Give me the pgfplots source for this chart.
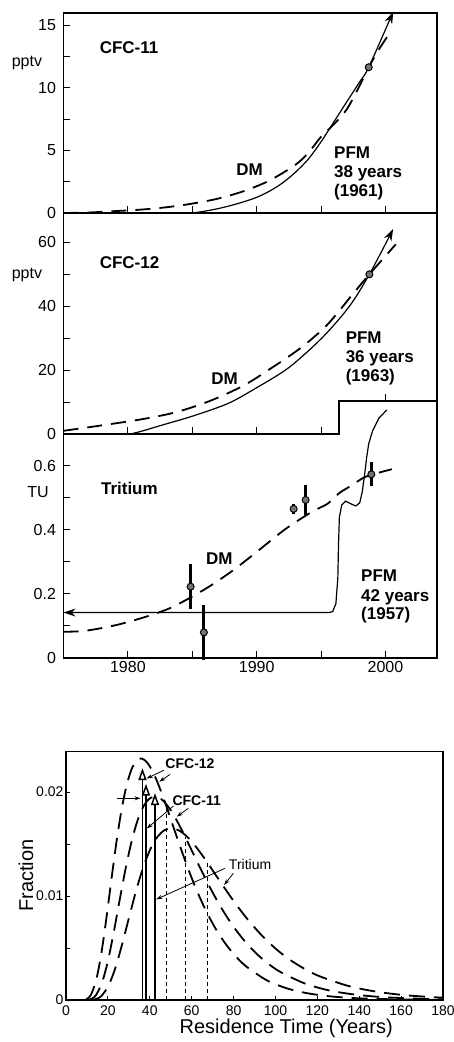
\documentclass[border=0pt]{standalone}
\usepackage{pgfplots}
\pgfplotsset{compat=1.18}
\usepackage{fontspec}
\setmainfont{Liberation Sans}
\usetikzlibrary{arrows.meta}
\newcommand{\tk}{\fontsize{16}{19}\selectfont}
\newcommand{\lb}{\fontsize{17}{20}\selectfont\bfseries}
\newcommand{\bk}{\fontsize{14}{17}\selectfont}
\begin{document}
\begin{tikzpicture}
\useasboundingbox (0pt,0pt) rectangle (454pt,1042pt);
\pgfplotsset{
  panel/.style={
    scale only axis, anchor=south west, clip=false,
    xmin=1975, xmax=2004, width=373.5pt,
    tick align=inside, tick pos=left, major tick length=7pt,
    tick style={black, line width=1pt},
    axis line style={line width=1.3pt},
    tick label style={font=\tk},
    yticklabel style={xshift=-4pt},
  },
  dm/.style={black, line width=1.8pt, dash pattern=on 15pt off 9pt, smooth},
  pfm/.style={black, line width=1.2pt},
  pt/.style={only marks, mark=*, mark size=3.5pt, mark options={fill=black!55, draw=black, line width=1pt, solid}},
}
% ---------------- Panel 1: CFC-11
\begin{axis}[panel, at={(63.5pt,829pt)}, height=200pt, ymin=0, ymax=16,
  xtick={1980,1985,1990,1995,2000}, xticklabels={},
  ytick={0,2.5,5,7.5,10,12.5,15}, yticklabels={0,,5,,10,,15}]
\addplot[dm] coordinates {(1975,0.0)(1977,0.04)(1979,0.15)(1981,0.27)(1983,0.46)(1985,0.75)(1987,1.15)(1989,1.75)(1991,2.6)(1993,3.85)(1994,4.8)(1995,6.1)(1996,7.1)(1997,8.3)(1998,10.2)(1998.7,11.66)(1999.5,13.1)(2000.4,14.5)};
\addplot[pfm, smooth, -{Stealth[length=12pt,width=8pt]}] coordinates {(1985,0)(1986,0.15)(1987,0.35)(1988,0.6)(1989,0.9)(1990,1.25)(1991,1.75)(1992,2.4)(1993,3.25)(1994,4.3)(1995,5.7)(1996,7.3)(1997,8.9)(1998,10.5)(1998.7,11.66)(2000.6,16.1)};
\addplot[pt] coordinates {(1998.7,11.66)};
\node[font=\lb, anchor=west, inner sep=0] at (axis cs:1977.8,13.25) {CFC-11};
\node[font=\lb, inner sep=0] at (axis cs:1989.45,3.45) {DM};
\node[font=\lb, anchor=base west, inner sep=0] at (axis cs:1996,4.38) {PFM};
\node[font=\lb, anchor=base west, inner sep=0] at (axis cs:1996,2.84) {38 years};
\node[font=\lb, anchor=base west, inner sep=0] at (axis cs:1996,1.32) {(1961)};
\node[font=\tk] at (axis description cs:-0.098,0.75) {pptv};
\end{axis}
% ---------------- Panel 2: CFC-12
\begin{axis}[panel, at={(63.5pt,608pt)}, height=221pt, ymin=0, ymax=69.2,
  axis line style={draw=none},
  xtick={1980,1985,1990,1995}, xticklabels={},
  ytick={0,10,20,30,40,50,60}, yticklabels={0,,20,,40,,60}]
\addplot[black, line width=1.3pt, line join=miter] coordinates {(1975,0)(1996.4,0)(1996.4,10.3)(2004,10.3)(2004,69.2)(1975,69.2)(1975,0)};
\addplot[black, line width=1pt] coordinates {(2000,10.3)(2000,12.5)};
\addplot[dm] coordinates {(1975,1.0)(1977.8,2.6)(1981.2,4.7)(1983.8,6.9)(1986.4,10.4)(1989,15.2)(1991.2,20.8)(1993.5,27.2)(1995.5,34.3)(1997.5,44)(1998.75,50)(2000.8,59.4)};
\addplot[pfm, smooth, -{Stealth[length=12pt,width=8pt]}] coordinates {(1980.2,0)(1981,0.8)(1982.5,2.6)(1985.1,5.7)(1987.8,9.6)(1990,14.5)(1992.5,20.8)(1995.1,30.2)(1997.2,40)(1998.75,50)(2000.6,64.2)};
\addplot[pt] coordinates {(1998.75,50)};
\node[font=\lb, anchor=west, inner sep=0] at (axis cs:1977.8,53.7) {CFC-12};
\node[font=\lb, inner sep=0] at (axis cs:1987.5,17.2) {DM};
\node[font=\lb, anchor=base west, inner sep=0] at (axis cs:1996.9,28.2) {PFM};
\node[font=\lb, anchor=base west, inner sep=0] at (axis cs:1996.9,22.4) {36 years};
\node[font=\lb, anchor=base west, inner sep=0] at (axis cs:1996.9,16.5) {(1963)};
\node[font=\tk] at (axis description cs:-0.098,0.72) {pptv};
\end{axis}
% ---------------- Panel 3: Tritium
\begin{axis}[panel, at={(63.5pt,384pt)}, height=224pt, ymin=0, ymax=0.7,
  axis line style={draw=none},
  xtick={1980,1985,1990,1995,2000}, xticklabels={1980,,1990,,2000},
  ytick={0,0.1,0.2,0.3,0.4,0.5,0.6}, yticklabels={0,,0.2,,0.4,,0.6}]
\addplot[black, line width=1.3pt, line join=miter] coordinates {(1975,0.7)(1975,0)(2004,0)(2004,0.8)};
\addplot[dm] coordinates {(1975,0.082)(1976.7,0.085)(1979.1,0.103)(1981.4,0.129)(1983.5,0.16)(1986.1,0.218)(1988.2,0.275)(1990.2,0.338)(1992.3,0.405)(1994.3,0.457)(1995.5,0.482)(1996.4,0.515)(1997.4,0.54)(1998.5,0.567)(2000.5,0.59)};
\addplot[pfm, {Stealth[length=12pt,width=8pt]}-] coordinates {(1975,0.142)(1995.6,0.142)(1995.9,0.145)(1996.15,0.17)(1996.3,0.25)(1996.35,0.35)(1996.42,0.44)(1996.6,0.478)(1996.9,0.49)(1997.3,0.482)(1997.7,0.475)(1998.0,0.485)(1998.2,0.52)(1998.4,0.58)(1998.55,0.63)(1998.7,0.67)(1999.0,0.71)(1999.5,0.75)(2000.1,0.775)};
\addplot[pt, error bars/.cd, y dir=both, y explicit, error mark=none, error bar style={line width=3pt, solid}] coordinates {
  (1984.87,0.223) +- (0,0.07)
  (1985.9,0.08) +- (0,0.085)
  (1992.87,0.466) +- (0,0.016)
  (1993.8,0.494) +- (0,0.048)
  (1998.9,0.574) +- (0,0.037)};
\node[font=\lb, anchor=west, inner sep=0] at (axis cs:1977.9,0.530) {Tritium};
\node[font=\lb, inner sep=0] at (axis cs:1987.1,0.312) {DM};
\node[font=\lb, anchor=base west, inner sep=0] at (axis cs:1998.1,0.239) {PFM};
\node[font=\lb, anchor=base west, inner sep=0] at (axis cs:1998.1,0.177) {42 years};
\node[font=\lb, anchor=base west, inner sep=0] at (axis cs:1998.1,0.12) {(1957)};
\node[font=\tk] at (axis description cs:-0.068,0.74) {TU};
\end{axis}
% ---------------- Bottom: residence time distributions
\begin{axis}[scale only axis, anchor=south west, at={(66pt,42pt)}, width=377pt, height=248.5pt,
  xmin=0, xmax=180, ymin=0, ymax=0.0239, clip=false,
  tick align=inside, tick pos=left, major tick length=4pt, tick style={black, line width=0.8pt},
  axis line style={line width=1.3pt},
  xtick={0,20,40,60,80,100,120,140,160,180}, xticklabels={0,20,40,60,80,100,120,140,160,180},
  ytick={0,0.005,0.01,0.015,0.02}, yticklabels={0,,0.01,,0.02},
  scaled ticks=false, tick label style={font=\bk},
  xticklabel style={yshift=-2pt}, yticklabel style={xshift=1pt}]
\pgfplotsset{bdm/.style={black, line width=1.8pt, dash pattern=on 16pt off 9pt, smooth}}
\addplot[bdm] coordinates {(9.6,0.00007)(10.56,0.00018)(12,0.00054)(14.4,0.00191)(16.8,0.00439)(19.2,0.00774)(21.6,0.01146)(24,0.01506)(26.4,0.01815)(28.8,0.02053)(31.2,0.02214)(33.6,0.02301)(36,0.02323)(38.4,0.02292)(40.8,0.02220)(43.2,0.02117)(45.6,0.01994)(48,0.01859)(52.8,0.01575)(57.6,0.01301)(62.4,0.01055)(67.2,0.00843)(72,0.00667)(76.8,0.00523)(81.6,0.00408)(86.4,0.00317)(96,0.00188)(105.6,0.00111)(115.2,0.00065)(124.8,0.00038)(134.4,0.00022)(144,0.00013)(158.4,0.00006)(172.8,0.00002)(180,0.00002)};
\addplot[bdm] coordinates {(11.4,0.00006)(12.54,0.00015)(14.25,0.00045)(17.1,0.00161)(19.95,0.00370)(22.8,0.00652)(25.65,0.00965)(28.5,0.01268)(31.35,0.01528)(34.2,0.01729)(37.05,0.01865)(39.9,0.01938)(42.75,0.01956)(45.6,0.01930)(48.45,0.01869)(51.3,0.01783)(54.15,0.01679)(57,0.01565)(62.7,0.01326)(68.4,0.01095)(74.1,0.00888)(79.8,0.00710)(85.5,0.00562)(91.2,0.00441)(96.9,0.00344)(102.6,0.00267)(114,0.00159)(125.4,0.00093)(136.8,0.00055)(148.2,0.00032)(159.6,0.00019)(171,0.00011)(180,0.00007)};
\addplot[bdm] coordinates {(13.5,0.00005)(14.85,0.00013)(16.875,0.00038)(20.25,0.00136)(23.625,0.00312)(27,0.00551)(30.375,0.00815)(33.75,0.01071)(37.125,0.01291)(40.5,0.01460)(43.875,0.01575)(47.25,0.01636)(50.625,0.01652)(54,0.01630)(57.375,0.01579)(60.75,0.01506)(64.125,0.01418)(67.5,0.01322)(74.25,0.01120)(81,0.00925)(87.75,0.00750)(94.5,0.00600)(101.25,0.00474)(108,0.00372)(114.75,0.00290)(121.5,0.00225)(135,0.00134)(148.5,0.00079)(162,0.00046)(175.5,0.00027)(180,0.00023)};
% PFM ages (solid, with arrowheads)
\addplot[black, line width=1.2pt, -{Triangle[open, length=12pt, width=8pt, line width=1.5pt]}] coordinates {(36.5,0)(36.5,0.0223)};
\addplot[black, line width=1.2pt, -{Triangle[open, length=12pt, width=8pt, line width=1.5pt]}] coordinates {(38.2,0)(38.2,0.0208)};
\addplot[black, line width=1.2pt, -{Triangle[open, length=12pt, width=8pt, line width=1.5pt]}] coordinates {(42.5,0)(42.5,0.0199)};
% DM mean ages (short dashed)
\addplot[black, line width=1pt, dash pattern=on 4pt off 3pt] coordinates {(48,0)(48,0.0186)};
\addplot[black, line width=1pt, dash pattern=on 4pt off 3pt] coordinates {(57,0)(57,0.01565)};
\addplot[black, line width=1pt, dash pattern=on 4pt off 3pt] coordinates {(67.5,0)(67.5,0.0132)};
% annotations
\draw[-{Stealth[length=6pt,width=4pt]}, line width=0.8pt] (axis cs:24.2,0.0194) -- (axis cs:35.6,0.0194);
\draw[-{Stealth[length=6pt,width=4pt]}, line width=0.8pt] (axis cs:46.8,0.0221) -- (axis cs:38.5,0.0213);
\draw[-{Stealth[length=6pt,width=4pt]}, line width=0.8pt] (axis cs:49.7,0.0217) -- (axis cs:44.6,0.0210);
\draw[-{Stealth[length=6pt,width=4pt]}, line width=0.8pt] (axis cs:51.3,0.01865) -- (axis cs:38.6,0.0165);
\draw[-{Stealth[length=6pt,width=4pt]}, line width=0.8pt] (axis cs:58.4,0.01843) -- (axis cs:52.9,0.01763);
\draw[-{Stealth[length=6pt,width=4pt]}, line width=0.8pt] (axis cs:75.9,0.01266) -- (axis cs:43.1,0.00968);
\draw[-{Stealth[length=6pt,width=4pt]}, line width=0.8pt] (axis cs:79.9,0.01218) -- (axis cs:75.5,0.01106);
\node[font=\bk\bfseries] at (axis cs:59.2,0.02276) {CFC-12};
\node[font=\bk\bfseries] at (axis cs:62.4,0.0192) {CFC-11};
\node[font=\bk] at (axis cs:87.9,0.01308) {Tritium};
\node[font=\fontsize{20}{24}\selectfont, rotate=90] at (axis description cs:-0.106,0.5) {Fraction};
\node[font=\fontsize{20}{24}\selectfont] at (axis description cs:0.584,-0.112) {Residence Time (Years)};
\end{axis}
\end{tikzpicture}
\end{document}
